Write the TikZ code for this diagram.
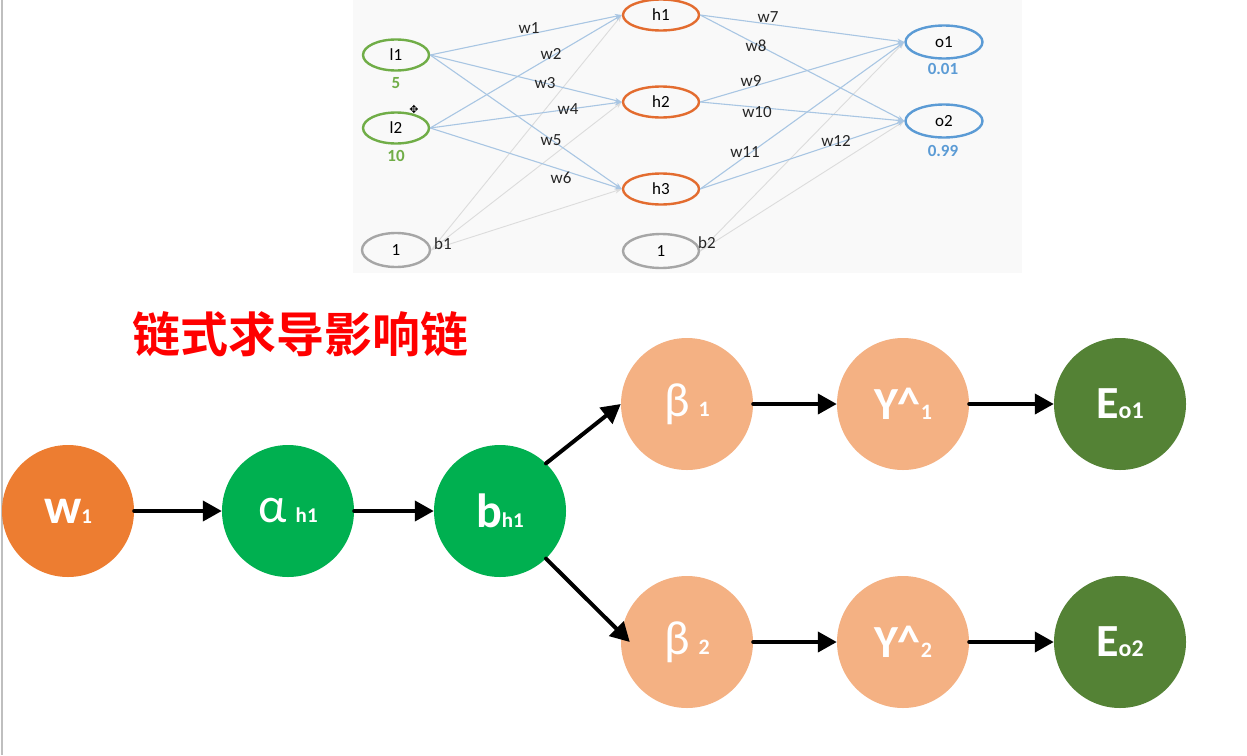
\documentclass[tikz,border=0pt]{standalone}
\usepackage{fontspec}
\setmainfont{Carlito}
\newfontfamily\cjkbold[BoldFont={Noto Sans CJK SC Bold}]{Noto Sans CJK SC}
\newfontfamily\dvsans{DejaVu Sans}
\usetikzlibrary{arrows.meta,shapes.geometric}
\definecolor{cOrange}{HTML}{ED7D31}
\definecolor{cGreen}{HTML}{00B050}
\definecolor{cPeach}{HTML}{F4B183}
\definecolor{cDark}{HTML}{548235}
\definecolor{nGreen}{HTML}{70AD47}
\definecolor{nOrange}{HTML}{E36C2F}
\definecolor{nBlue}{HTML}{5B9BD5}
\definecolor{nGray}{HTML}{A6A6A6}
\definecolor{eBlue}{HTML}{A9C6E3}
\definecolor{eGray}{HTML}{DCDCDC}
\definecolor{shotBg}{HTML}{F9F9F9}
\newcommand\fsz[1]{\fontsize{#1}{#1}\selectfont}
\begin{document}
\begin{tikzpicture}[x=1pt,y=-1pt,
  bignode/.style={circle,minimum size=132pt,inner sep=0pt,text=white,draw=none},
  chainarr/.style={line width=4pt,line cap=round,-{Triangle[length=19pt,width=20pt]}},
  netnode/.style={ellipse,line width=2.4pt,inner sep=0pt,font=\fsz{17}},
  inode/.style={netnode,draw=nGreen,minimum width=66pt,minimum height=31pt},
  hnode/.style={netnode,draw=nOrange,minimum width=76pt,minimum height=31pt},
  onode/.style={netnode,draw=nBlue,minimum width=77pt,minimum height=33pt},
  bnode/.style={netnode,draw=nGray,minimum width=68pt,minimum height=34pt},
  wedge/.style={eBlue,line width=1.1pt,-{Stealth[length=7pt,width=5pt]}},
  bedge/.style={eGray,line width=0.9pt,-{Stealth[length=7pt,width=5pt]}},
  wlab/.style={font=\fsz{17},text=black!85,inner sep=0pt},
  vlab/.style={font=\fsz{17}\bfseries,inner sep=0pt}]
\useasboundingbox (0,0) rectangle (1247,755);
\fill[white] (0,0) rectangle (1247,755);
% left border line
\draw[black!25,line width=1.5pt] (2,0) -- (2,755);
% screenshot background
\fill[shotBg] (353,0) rectangle (1022,273);

% ---- top network ----
\node[inode] (l1) at (396,55) {l1};
\node[inode] (l2) at (396,128) {l2};
\node[bnode] (bone) at (396,250) {1};
\node[hnode] (h1) at (661,15) {h1};
\node[hnode] (h2) at (661,102) {h2};
\node[hnode] (h3) at (661,189) {h3};
\node[bnode,minimum width=76pt] (btwo) at (661,251) {1};
\node[onode] (o1) at (944,42) {o1};
\node[onode] (o2) at (944,121) {o2};

\node[vlab,text=nGreen] (v5) at (396,83) {5};
\node[vlab,text=nGreen] (v10) at (396,156) {10};
\node[vlab,text=nBlue] (v001) at (943,69) {0.01};
\node[vlab,text=nBlue] (v099) at (943,151) {0.99};

\draw[bedge] (bone.east) -- (h1.west);
\draw[bedge] (bone.east) -- (h2.west);
\draw[bedge] (bone.east) -- (h3.west);
\draw[bedge] (btwo.east) -- (o1.west);
\draw[bedge] (btwo.east) -- (o2.west);

\draw[wedge] (l1.east) -- (h1.west);
\draw[wedge] (l2.east) -- (h1.west);
\draw[wedge] (l1.east) -- (h2.west);
\draw[wedge] (l2.east) -- (h2.west);
\draw[wedge] (l1.east) -- (h3.west);
\draw[wedge] (l2.east) -- (h3.west);
\draw[wedge] (h1.east) -- (o1.west);
\draw[wedge] (h1.east) -- (o2.west);
\draw[wedge] (h2.east) -- (o1.west);
\draw[wedge] (h2.east) -- (o2.west);
\draw[wedge] (h3.east) -- (o1.west);
\draw[wedge] (h3.east) -- (o2.west);

\node[wlab] (lw1) at (529,28) {w1};
\node[wlab] (lw2) at (551,54) {w2};
\node[wlab] (lw3) at (545,83) {w3};
\node[wlab] (lw4) at (568,109) {w4};
\node[wlab] (lw5) at (551,140) {w5};
\node[wlab] (lw6) at (561,178) {w6};
\node[wlab] (lw7) at (768,17) {w7};
\node[wlab] (lw8) at (756,46) {w8};
\node[wlab] (lw9) at (751,81) {w9};
\node[wlab] (lw10) at (757,112) {w10};
\node[wlab] (lw11) at (745,152) {w11};
\node[wlab] (lw12) at (836,141) {w12};
\node[wlab] (lb1) at (443,244) {b1};
\node[wlab] (lb2) at (707,243) {b2};
% move cursor
\node[inner sep=0pt,font=\dvsans\fsz{11}] (cur) at (414,109) {✥};

% ---- title ----
\node[text=red,font=\cjkbold\bfseries\fsz{48}] (title) at (300,334) {链式求导影响链};

% ---- chain ----
\node[bignode,fill=cOrange] (w) at (68,511) {{\fsz{50}\bfseries w}{\fsz{21}\bfseries 1}};
\node[bignode,fill=cGreen] (a) at (288,511) {{\fsz{50}α}\hspace{9pt}{\fsz{21}\bfseries h1}};
\node[bignode,fill=cGreen] (b) at (500,511) {{\fsz{48}\bfseries b}{\fsz{21}\bfseries h1}};
\node[bignode,fill=cPeach] (be1) at (687,404) {{\fsz{48}β}\hspace{9pt}{\fsz{22}\bfseries 1}};
\node[bignode,fill=cPeach] (y1) at (903,404) {{\fsz{46}\bfseries Y\textasciicircum}{\fsz{22}\bfseries 1}};
\node[bignode,fill=cDark] (e1) at (1120,404) {{\fsz{46}\bfseries E}{\fsz{24}\bfseries o1}};
\node[bignode,fill=cPeach] (be2) at (687,642) {{\fsz{48}β}\hspace{9pt}{\fsz{22}\bfseries 2}};
\node[bignode,fill=cPeach] (y2) at (903,642) {{\fsz{46}\bfseries Y\textasciicircum}{\fsz{22}\bfseries 2}};
\node[bignode,fill=cDark] (e2) at (1120,642) {{\fsz{46}\bfseries E}{\fsz{24}\bfseries o2}};

\draw[chainarr] (w.east) -- (a.west);
\draw[chainarr] (a.east) -- (b.west);
\draw[chainarr] (b.46) -- (be1.west);
\draw[chainarr] (b.-46) -- ([xshift=9pt]be2.west);
\draw[chainarr] (be1.east) -- (y1.west);
\draw[chainarr] (y1.east) -- (e1.west);
\draw[chainarr] (be2.east) -- (y2.west);
\draw[chainarr] (y2.east) -- (e2.west);
\end{tikzpicture}
\end{document}
